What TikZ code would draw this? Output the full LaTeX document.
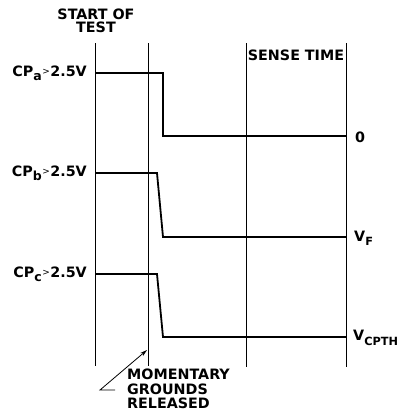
\documentclass[tikz,border=0pt]{standalone}
\usepackage{fontspec}
\setmainfont{DejaVu Sans}
\usetikzlibrary{arrows.meta}
\newcommand{\sbs}[1]{\raisebox{-0.5ex}{\fontsize{12.5}{12.5}\selectfont #1}}
\newcommand{\sbc}[1]{\raisebox{-0.55ex}{\fontsize{11.3}{11.3}\selectfont #1}}
\newcommand{\gtsym}{\hspace{0.5pt}\raisebox{0.25ex}{\fontsize{9}{9}\selectfont\mdseries >}\hspace{0.5pt}}
\begin{document}
\begin{tikzpicture}[x=1pt,y=-1pt,
  lab/.style={font=\fontsize{14.3}{13}\selectfont\bfseries, inner sep=0pt},
  guide/.style={line width=0.9pt},
  sig/.style={line width=1.8pt, line join=miter}]
\useasboundingbox (0,0) rectangle (401,416);
% guide lines
\draw[guide] (95,43) -- (95,366);
\draw[guide] (148,43) -- (148,366);
\draw[guide] (246,43) -- (246,367);
\draw[guide] (346,43) -- (346,367);
% titles
\node[lab, align=center] (start) at (96,21) {START OF\\TEST};
\node[lab] (sense) at (296,55) {SENSE TIME};
% signals
\draw[sig] (95,73) -- (163,73) -- (163,136) -- (346,136);
\draw[sig] (95,173) -- (157,173) -- (163,237) -- (346,237);
\draw[sig] (95,274) -- (157,274) -- (163,337) -- (346,337);
% left labels
\node[lab, anchor=east] (ca) at (87,73) {CP\sbs{a}\gtsym 2.5V};
\node[lab, anchor=east] (cb) at (87,173) {CP\sbs{b}\gtsym 2.5V};
\node[lab, anchor=east] (cc) at (87,274) {CP\sbs{c}\gtsym 2.5V};
% right labels
\node[lab, anchor=west] (z) at (355,137) {0};
\node[lab, anchor=west] (vf) at (354,238) {V\sbc{F}};
\node[lab, anchor=west] (vc) at (353,338) {V\sbc{CPTH}};
% annotation
\node[lab, anchor=north west, align=left] (mom) at (127,369) {MOMENTARY\\[1.5pt]GROUNDS\\[1.5pt]RELEASED};
\coordinate (tail) at (115,390);
\coordinate (bend) at (100,390);
\coordinate (tip) at (147,350);
\draw[line width=0.8pt, -{Stealth[length=7pt,width=4pt]}] (tail) -- (bend) -- (tip);
\end{tikzpicture}
\end{document}
